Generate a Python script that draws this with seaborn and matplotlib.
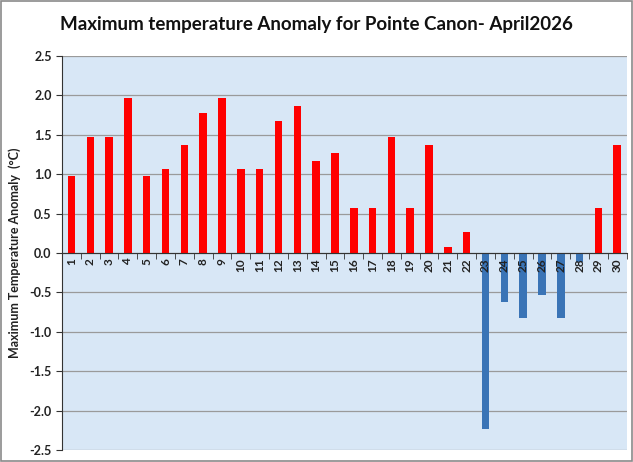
import numpy as np
import pandas as pd
import matplotlib
matplotlib.use('Agg')
import matplotlib.pyplot as plt
import seaborn as sns
from matplotlib.patches import Rectangle

# Daily max temperature anomaly, April 2026
days = list(range(1, 31))
anomaly = [0.97, 1.47, 1.47, 1.97, 0.97, 1.07, 1.37, 1.77, 1.97, 1.07,
           1.07, 1.67, 1.87, 1.17, 1.27, 0.57, 0.57, 1.47, 0.57, 1.37,
           0.07, 0.27, -2.23, -0.62, -0.83, -0.53, -0.83, -0.12, 0.57, 1.37]
y_ticks = [2.5, 2.0, 1.5, 1.0, 0.5, 0.0, -0.5, -1.0, -1.5, -2.0, -2.5]

df = pd.DataFrame({'Day': [str(d) for d in days], 'Anomaly': anomaly})
df['Sign'] = np.where(df['Anomaly'] >= 0, 'pos', 'neg')

sns.set_style('white')
plt.rcParams['font.family'] = ['Lato', 'DejaVu Sans']

fig = plt.figure(figsize=(6.33, 4.62), dpi=100)
ax = fig.add_axes([0.098, 0.026, 0.892, 0.853])
ax.set_facecolor('#d8e7f6')

sns.barplot(data=df, x='Day', y='Anomaly', hue='Sign',
            palette={'pos': '#ff0000', 'neg': '#3a74b6'}, saturation=1,
            dodge=False, width=0.4, legend=False, ax=ax,
            linewidth=0, zorder=2)

ax.set_ylim(-2.5, 2.5)
ax.set_xlim(-0.5, len(days) - 0.5)
ax.set_yticks(y_ticks)
ax.set_yticklabels([f'{v:.1f}' for v in y_ticks], fontsize=9, fontweight='bold', color='#222222')

# gridlines behind the bars, axis labels in front of them
ax.grid(False)
for v in y_ticks:
    ax.axhline(v, color='#9a9a9a', linewidth=0.9, zorder=0.5)
ax.set_axisbelow(False)

# category axis sits on the zero line, ticks between the bars
ax.spines['bottom'].set_position(('data', 0))
ax.spines['bottom'].set_color('#333333')
ax.spines['left'].set_color('#333333')
ax.spines['top'].set_visible(False)
ax.spines['right'].set_visible(False)
ax.set_xticks(range(len(days)))
ax.set_xticklabels([str(d) for d in days], rotation=90, fontsize=8.5,
                   fontweight='bold', color='#222222')
ax.set_xticks(np.arange(-0.5, len(days), 1), minor=True)
ax.tick_params(axis='x', which='major', length=0, pad=4)
ax.tick_params(axis='x', which='minor', length=4, direction='out', color='#333333', bottom=True)
ax.tick_params(axis='y', length=4, direction='out', color='#333333', left=True)

ax.set_xlabel('')
ax.set_ylabel('Maximum Temperature Anomaly  (°C)', fontsize=9, fontweight='bold',
              color='#222222', labelpad=6)

fig.suptitle('Maximum temperature Anomaly for Pointe Canon- April2026',
             fontsize=13.5, fontweight='bold', y=0.965, color='#111111')

fig.patches.append(Rectangle((0.002, 0.002), 0.996, 0.996, transform=fig.transFigure,
                             fill=False, edgecolor='#8a8a8a', linewidth=1.2))

fig.savefig('out.png', dpi=100)
